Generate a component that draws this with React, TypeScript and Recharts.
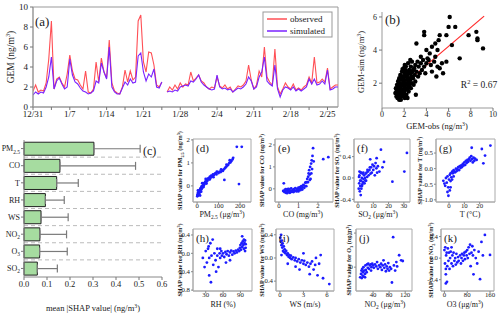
import React from 'react';
import {
  LineChart, Line, XAxis, YAxis, ScatterChart, Scatter, BarChart, Bar, ErrorBar,
  CartesianGrid, ReferenceArea, ReferenceLine,
} from 'recharts';

const FONT = '"Liberation Serif", "DejaVu Serif", serif';

// ---- (a) hourly GEM, sampled every half day from 12/31 ----
const dateLabels = ['12/31', '1/7', '1/14', '1/21', '1/28', '2/4', '2/11', '2/18', '2/25'];
const observed = [
  1.6, 2.2, 1.5, 1.7, 1.6, 2.4, 4.8, 8.6, 1.8, 2.8,
  3.0, 2.4, 2.0, 3.3, 5.2, 3.6, 2.8, 2.7, 2.2, 1.8,
  3.6, 1.5, 1.4, 1.8, 4.5, 2.5, 4.9, 3.5, 2.9, 6.7,
  2.4, 1.6, 1.4, 1.3, 2.0, 3.7, 2.5, 3.6, 2.7, 3.0,
  8.6, 9.2, 4.5, 3.5, 5.5, 5.4, 4.2, 2.2, 2.0, 2.5,
  null, 1.5, 2.0, 1.7, 2.2, 1.8, 2.4, 2.0, 2.3, 2.2,
  3.5, 2.6, 2.9, 3.2, 2.6, 2.4, 2.0, 1.8, 2.0, 1.9,
  3.0, 2.1, 1.9, 2.2, 1.8, 2.0, 1.5, 1.8, 2.1, 2.0,
  2.2, 2.6, 4.2, 2.7, 1.8, 2.2, 3.6, 3.0, 6.0, 3.0,
  2.5, 2.2, 5.8, 2.0, 1.3, 1.8, 2.4, 2.0, 1.8, 2.3,
  1.7, 1.9, 1.7, 2.0, 2.2, 3.0, 2.4, 5.0, 2.4, 2.5,
  2.8, 2.5, 3.9, 1.8, 2.0, 2.2, 2.2,
];
const simulated = [
  1.2, 1.5, 1.3, 1.5, 1.4, 2.0, 3.0, 5.0, 1.8, 2.6,
  2.9, 2.3, 1.8, 2.0, 4.8, 3.2, 2.5, 2.3, 1.9, 1.6,
  1.5, 1.3, 1.4, 1.6, 2.6, 2.4, 4.4, 3.5, 2.8, 6.0,
  2.0, 1.5, 1.3, 1.3, 1.9, 2.5, 2.2, 2.8, 2.4, 2.5,
  5.1, 5.4, 3.5, 2.6, 3.3, 3.0, 3.8, 2.0, 1.9, 2.5,
  null, 1.5, 1.6, 1.5, 1.7, 1.6, 2.0, 2.1, 2.2, 2.1,
  2.6, 2.5, 2.8, 3.2, 2.5, 2.2, 2.0, 1.8, 1.7, 1.8,
  3.2, 2.0, 1.8, 1.9, 1.7, 1.8, 1.5, 1.7, 1.9, 1.8,
  2.0, 2.3, 3.0, 2.6, 1.8, 2.0, 3.0, 3.5, 5.0, 2.6,
  2.3, 2.1, 4.2, 1.8, 1.0, 1.7, 2.0, 1.9, 1.7, 2.0,
  1.6, 1.8, 1.6, 1.8, 2.0, 2.8, 2.3, 2.8, 2.2, 2.3,
  2.6, 2.3, 3.7, 1.7, 1.8, 2.0, 2.0,
];

// ---- (b) obs vs sim ----
const obsVsSim: [number, number][] = [
  [1.2, 1.4], [1.25, 1.7], [1.3, 1.2], [1.3, 1.5], [1.35, 1.9], [1.4, 1.1], [1.4, 1.6], [1.45, 2.1],
  [1.5, 1.3], [1.5, 1.8], [1.55, 1.0], [1.55, 2.3], [1.6, 1.5], [1.6, 2.0], [1.65, 1.2], [1.65, 2.5],
  [1.7, 1.7], [1.7, 1.0], [1.75, 2.2], [1.75, 1.4], [1.8, 1.9], [1.8, 2.7], [1.85, 1.2], [1.85, 1.6],
  [1.9, 2.4], [1.9, 2.0], [1.95, 1.4], [1.95, 2.9], [2.0, 1.8], [2.0, 2.2], [2.05, 1.1], [2.05, 2.6],
  [2.1, 1.6], [2.1, 2.0], [2.15, 2.4], [2.15, 3.0], [2.2, 1.3], [2.2, 1.9], [2.25, 2.2], [2.25, 2.7],
  [2.3, 1.7], [2.3, 2.5], [2.35, 2.0], [2.35, 3.2], [2.4, 1.5], [2.4, 2.3], [2.45, 2.8], [2.5, 1.9],
  [2.5, 2.6], [2.55, 2.2], [2.6, 3.0], [2.6, 1.7], [2.65, 2.4], [2.7, 2.0], [2.7, 3.3], [2.75, 2.7],
  [2.8, 2.3], [2.85, 1.9], [2.9, 2.9], [2.95, 2.5], [3.0, 3.1], [3.0, 2.1], [3.05, 1.3], [3.1, 2.7],
  [3.1, 4.4], [3.2, 3.3], [3.25, 2.4], [3.3, 3.0], [3.4, 2.6], [3.5, 3.6], [3.5, 3.2], [3.6, 2.8],
  [3.7, 3.4], [3.8, 5.1], [3.8, 4.9], [3.8, 3.0], [3.9, 2.6], [4.0, 4.0], [4.0, 3.2], [4.1, 3.5],
  [4.2, 3.4], [4.3, 3.8], [4.4, 3.1], [4.5, 4.2], [4.5, 2.7], [4.7, 3.3], [4.8, 4.4], [4.8, 3.6],
  [4.9, 2.4], [5.0, 4.0], [5.0, 3.0], [5.1, 4.6], [5.2, 4.9], [5.2, 2.9], [5.4, 3.2], [5.5, 2.6],
  [5.8, 3.3], [5.8, 4.9], [6.0, 5.4], [6.1, 6.0], [6.3, 4.3], [6.6, 5.4], [7.0, 3.5], [7.8, 4.9],
  [8.5, 5.1], [8.6, 4.7], [8.6, 4.6], [9.1, 4.1], [1.45, 1.25], [1.6, 1.75], [1.75, 1.55], [1.9, 1.3],
  [2.0, 1.5], [2.1, 2.8], [2.3, 1.1], [2.45, 1.8], [1.35, 1.35], [1.55, 1.15], [1.65, 1.85], [1.8, 2.35],
  [1.95, 2.05], [2.2, 2.55], [2.4, 2.05], [2.6, 2.6], [2.8, 2.8], [1.5, 2.15], [1.7, 2.45], [1.85, 2.85],
  [2.05, 3.1], [2.55, 3.4],
];
const fitX = [1.3, 9.2];
const fitY = [1.55, 6.05];

// ---- (c) mean |SHAP| ----
const factors = ['PM_{2.5}', 'CO', 'T', 'RH', 'WS', 'NO_{2}', 'O_{3}', 'SO_{2}'];
const meanShap = [0.304, 0.156, 0.142, 0.093, 0.074, 0.069, 0.068, 0.058];
const shapUpper = [0.505, 0.485, 0.236, 0.175, 0.192, 0.185, 0.188, 0.145];

// ---- (d)-(k) dependence plots ----
const pm25Shap: [number, number][] = [
  [1, -0.45], [2, -0.38], [3, -0.42], [4, -0.3], [5, -0.35], [6, -0.4], [7, -0.28], [8, -0.33], [9, -0.22],
  [10, -0.3], [12, -0.2], [13, -0.26], [15, -0.12], [16, -0.18], [18, -0.1], [20, -0.15], [21, -0.02],
  [23, -0.08], [25, 0.0], [27, -0.05], [29, 0.08], [31, 0.02], [33, 0.12], [35, 0.08], [38, 0.18], [40, 0.3],
  [42, 0.15], [45, 0.25], [48, 0.22], [50, 0.32], [53, 0.3], [56, 0.35], [60, 0.4], [63, 0.36], [66, 0.45],
  [70, 0.42], [74, 0.5], [78, 0.47], [82, 0.52], [86, 0.55], [90, 0.5], [95, 0.6], [100, 0.56], [105, 0.62],
  [110, 0.6], [115, 0.68], [120, 0.65], [125, 0.72], [127, 0.26], [130, 0.78], [135, 0.82], [140, 0.88],
  [145, 0.92], [150, 1.0], [155, 1.02], [160, 1.08], [165, 1.15], [168, 1.22], [185, 1.7], [208, 1.7],
  [195, 0.08], [14, -0.42], [24, 0.12], [60, 0.3], [4, -0.2], [11, -0.38], [19, -0.25], [30, -0.05],
  [44, 0.1], [58, 0.28], [76, 0.38], [92, 0.62], [112, 0.72], [137, 0.92], [152, 1.12],
];
const coShap: [number, number][] = [
  [0.22, -0.1], [0.25, 0.25], [0.28, -0.15], [0.3, -0.05], [0.33, -0.12], [0.36, -0.18], [0.4, -0.08],
  [0.42, -0.2], [0.45, -0.02], [0.48, -0.12], [0.5, -0.15], [0.53, -0.05], [0.56, -0.18], [0.6, -0.1],
  [0.63, 0.02], [0.66, -0.14], [0.7, -0.06], [0.73, -0.12], [0.76, -0.02], [0.8, -0.1], [0.84, 0.03],
  [0.88, -0.08], [0.92, 0.0], [0.96, -0.05], [1.0, 0.05], [1.04, -0.02], [1.08, 0.08], [1.12, 0.02],
  [1.15, 0.12], [1.2, 0.08], [1.25, 0.18], [1.3, 0.15], [1.35, 0.28], [1.4, 0.3], [1.45, 0.45], [1.5, 0.55],
  [1.52, 0.7], [1.55, 0.85], [1.58, 0.65], [1.6, 1.0], [1.62, 0.45], [1.65, 1.15], [1.68, 1.3], [1.7, 0.9],
  [1.72, 1.5], [1.75, 1.85], [1.78, 1.25], [2.27, 1.35], [2.53, 1.44], [1.0, -0.12], [1.2, -0.03],
  [0.5, 0.0], [1.4, 0.12], [0.35, -0.02], [0.55, -0.08], [0.75, -0.15], [0.9, -0.12], [1.1, -0.06],
  [1.3, 0.05], [1.48, 0.3], [1.58, 0.4], [1.66, 0.7],
];
const so2Shap: [number, number][] = [
  [0.5, -0.2], [0.8, -0.1], [1, 0.05], [1.2, -0.25], [1.5, -0.15], [1.8, 0.1], [2, -0.05], [2.2, -0.2],
  [2.5, 0.0], [2.8, -0.12], [3, 0.08], [3.3, -0.08], [3.6, -0.02], [4, 0.05], [4.3, -0.1], [4.6, 0.0],
  [5, 0.08], [5.3, -0.05], [5.6, 0.1], [6, 0.02], [6.5, 0.12], [7, 0.05], [7.5, 0.15], [8, 0.35], [8.2, 0.08],
  [8.5, 0.2], [9, 0.1], [9.5, 0.25], [10, 0.15], [10.5, 0.22], [11, 0.05], [11.5, 0.28], [12, 0.18],
  [12.2, 0.37], [12.5, 0.1], [13, 0.22], [14, 0.12], [15, 0.53], [16, 0.2], [17, 0.3], [22.5, -0.07],
  [30.3, 0.12], [32, 0.47], [1, 0.12], [2, 0.1], [1.8, -0.32], [0.7, 0.02], [1.4, -0.05], [2.6, -0.15],
  [3.5, 0.1], [4.8, -0.05], [6.2, 0.15], [7.8, 0.2],
];
const tShap: [number, number][] = [
  [-3.7, -0.39], [-2.5, -0.55], [-2, -0.3], [-1.5, -0.45], [-1, -0.25], [-0.5, -0.6], [-0.4, -0.87],
  [0, -0.35], [0.5, -0.7], [0.5, -0.2], [1, -0.4], [1, -0.15], [1.5, -0.28], [2, -0.1], [2, -0.35],
  [2.5, -0.15], [3, -0.05], [3, -0.25], [3.5, -0.1], [4, -0.12], [4.5, 0.0], [5, -0.08], [5.5, -0.02],
  [6, 0.05], [6.5, -0.05], [7, 0.08], [7.5, 0.02], [8, 0.1], [8.5, 0.05], [9, 0.15], [9.5, 0.1], [10, 0.2],
  [10.5, 0.12], [11, 0.25], [11.5, 0.18], [12, 0.28], [12.5, 0.22], [13, 0.3], [13.5, 0.35], [14, 0.25],
  [14.5, 0.4], [15, 0.3], [15.5, 0.2], [16, 0.35], [16.5, 0.25], [17, 0.32], [18, 0.28], [14.8, 0.67],
  [21.4, 0.63], [23.5, 0.42], [22.4, 0.17], [27, 0.74], [1, -0.6], [-1, -0.75], [-3, -0.48],
];
const rhShap: [number, number][] = [
  [25, -0.1], [28, -0.3], [30, 0.05], [32, -0.2], [34, 0.1], [36, -0.48], [36, -0.1], [38, 0.22], [39, -0.63],
  [40, -0.05], [42, 0.3], [43, -0.25], [45, 0.0], [47, -0.15], [48, -0.4], [50, 0.1], [50, -0.05], [52, -0.3],
  [54, 0.0], [55, -0.1], [57, 0.05], [58, -0.05], [60, 0.0], [62, -0.08], [64, 0.03], [66, -0.02], [68, 0.05],
  [70, -0.05], [72, 0.02], [74, 0.06], [76, -0.03], [78, 0.04], [80, 0.0], [82, 0.06], [84, 0.02], [86, 0.08],
  [93, 0.37], [88, 0.05], [89, 0.12], [90, 0.18], [91, 0.08], [92, 0.22], [93, 0.14], [94, 0.26], [95, 0.18],
  [96, 0.3], [97, 0.22], [98, 0.28], [99, 0.2], [99, 0.12], [98, 0.05], [96, 0.1], [65, -0.2], [72, -0.15],
  [35, 0.15], [55, 0.1],
];
const wsShap: [number, number][] = [
  [0.05, 0.35], [0.1, 0.28], [0.15, 0.4], [0.2, 0.22], [0.25, 0.3], [0.3, 0.18], [0.35, 0.25], [0.4, 0.12],
  [0.5, 0.2], [0.55, 0.1], [0.6, 0.15], [0.7, 0.08], [0.8, 0.12], [0.9, 0.05], [1.0, 0.08], [1.1, 0.02],
  [1.2, 0.05], [1.3, 0.0], [1.4, 0.04], [1.5, -0.02], [1.7, 0.01], [1.9, -0.04], [2.0, 0.0], [2.2, -0.06],
  [2.4, -0.02], [2.6, -0.08], [2.8, -0.04], [3.0, -0.1], [3.1, -0.05], [3.3, -0.12], [3.5, -0.08],
  [3.7, -0.15], [3.9, -0.1], [4.1, -0.06], [4.3, -0.2], [4.5, -0.12], [4.6, 0.0], [4.8, -0.3], [5.0, -0.1],
  [5.2, 0.05], [5.5, -0.35], [6.3, -0.45], [3.8, -0.28], [2.5, -0.2], [0.2, 0.05], [1.0, -0.1],
  [2.0, -0.15], [3.0, 0.08],
];
const no2Shap: [number, number][] = [
  [8, -0.3], [10, -0.2], [11, -0.1], [12, -0.32], [13, -0.05], [14, -0.25], [15, -0.15], [16, 0.0],
  [17, -0.28], [18, -0.1], [20, -0.2], [21, 0.05], [22, -0.08], [24, -0.15], [25, 0.08], [27, -0.02],
  [28, 0.1], [30, -0.05], [32, 0.05], [34, 0.08], [36, 0.0], [38, 0.1], [40, 0.05], [42, -0.02], [45, 0.08],
  [48, 0.02], [50, 0.15], [52, -0.05], [55, 0.05], [58, 0.0], [60, 0.1], [62, -0.08], [64, 0.05], [66, 0.2],
  [68, -0.02], [70, 0.08], [72, -0.12], [74, 0.02], [76, -0.05], [78, 0.12], [80, -0.1], [82, 0.0],
  [85, -0.05], [87, -0.45], [90, 0.88], [92, 0.05], [95, -0.1], [98, 0.15], [100, 0.02], [105, 0.35],
  [110, 0.2], [114, 0.18], [20, -0.3], [35, -0.1],
];
const o3Shap: [number, number][] = [
  [0, 0.15], [2, -0.1], [3, 0.2], [5, -0.2], [6, 0.05], [8, 0.1], [5, -0.47], [10, -0.15], [12, 0.18],
  [14, -0.05], [9, -0.44], [16, 0.1], [18, -0.2], [20, 0.0], [22, 0.12], [25, -0.1], [28, 0.05], [30, -0.15],
  [32, 0.1], [35, -0.05], [38, 0.0], [40, -0.12], [42, 0.08], [45, -0.08], [48, 0.02], [50, -0.05], [55, 0.05],
  [58, -0.1], [60, 0.0], [62, 0.08], [65, -0.05], [68, 0.05], [70, 0.1], [72, -0.02], [75, 0.12], [78, 0.05],
  [80, 0.15], [82, 0.0], [85, 0.2], [88, 0.08], [90, 0.25], [92, -0.15], [95, 0.1], [98, 0.22], [100, 0.05],
  [102, -0.3], [105, 0.15], [110, 0.0], [115, -0.1], [120, 0.12], [125, -0.39], [130, 0.3], [135, 0.05],
  [142, 0.43], [160, 0.06], [5, -0.3], [25, 0.2],
];

const smallPanels = [
  { tag: '(d)', pts: pm25Shap, box: [193, 139, 251, 202], xd: [-19, 251], xt: [0, 100, 200], yd: [-0.7, 2.04], yt: [0, 1, 2], dec: 0, xl: 'PM_{2.5} (μg/m^{3})', xlx: 222, yl: 'SHAP value for PM_{2.5} (ng/m^{3})', ylx: 182 },
  { tag: '(e)', pts: coShap, box: [275, 139, 333, 202], xd: [-0.2, 2.77], xt: [0, 1, 2], yd: [-0.6, 2.27], yt: [0, 1, 2], dec: 0, xl: 'CO (mg/m^{3})', xlx: 303, yl: 'SHAP value for CO (ng/m^{3})', ylx: 264 },
  { tag: '(f)', pts: so2Shap, box: [354, 139, 410, 202], xd: [-2.6, 34], xt: [0, 10, 20, 30], yd: [-0.45, 0.73], yt: [-0.4, 0, 0.4], dec: 1, xl: 'SO_{2} (μg/m^{3})', xlx: 378, yl: 'SHAP value for SO_{2} (ng/m^{3})', ylx: 339 },
  { tag: '(g)', pts: tShap, box: [436, 139, 495, 202], xd: [-8.5, 30], xt: [0, 10, 20], yd: [-1.07, 0.95], yt: [-1, -0.5, 0, 0.5], dec: 1, xl: 'T (°C)', xlx: 470, yl: 'SHAP value for T (ng/m^{3})', ylx: 422 },
  { tag: '(h)', pts: rhShap, box: [193, 229, 252, 291], xd: [8, 110], xt: [30, 60, 90], yd: [-0.82, 0.53], yt: [-0.8, -0.4, 0, 0.4], dec: 1, xl: 'RH (%)', xlx: 223, yl: 'SHAP value for RH (ng/m^{3})', ylx: 182 },
  { tag: '(i)', pts: wsShap, box: [276, 229, 334, 291], xd: [-0.5, 6.9], xt: [0, 3, 6], yd: [-0.57, 0.5], yt: [-0.4, 0, 0.4], dec: 1, xl: 'WS (m/s)', xlx: 305, yl: 'SHAP value for WS (ng/m^{3})', ylx: 264 },
  { tag: '(j)', pts: no2Shap, box: [356, 229, 412, 291], xd: [-2.5, 137], xt: [40, 80, 120], yd: [-0.7, 1.12], yt: [0, 1], dec: 0, xl: 'NO_{2} (μg/m^{3})', xlx: 385, yl: 'SHAP value for O_{3} (ng/m^{3})', ylx: 351 },
  { tag: '(k)', pts: o3Shap, box: [441, 229, 494, 291], xd: [-12, 174], xt: [0, 80, 160], yd: [-0.61, 0.54], yt: [-0.4, 0, 0.4], dec: 1, xl: 'O3 (μg/m^{3})', xlx: 465, yl: 'SHAP value for NO_{2} (ng/m^{3})', ylx: 433 },
];

// ---------- helpers ----------
function parseRich(s: string): [string, string][] {
  const out: [string, string][] = [];
  const re = /([_^])\{([^}]*)\}/g;
  let last = 0;
  let m: RegExpExecArray | null;
  while ((m = re.exec(s))) {
    if (m.index > last) out.push([s.slice(last, m.index), '']);
    out.push([m[2], m[1] === '_' ? 'sub' : 'sup']);
    last = re.lastIndex;
  }
  if (last < s.length) out.push([s.slice(last), '']);
  return out;
}

const RichText = ({ x, y, text, size, anchor = 'middle', rotate = false, weight = 'normal' }: any) => {
  let shift = 0;
  return (
    <text x={x} y={y} fontSize={size} fontFamily={FONT} fontWeight={weight} textAnchor={anchor} fill="#1a1a1a"
      transform={rotate ? `rotate(-90 ${x} ${y})` : undefined}>
      {parseRich(text).map(([t, k], i) => {
        const target = k === 'sub' ? size * 0.28 : k === 'sup' ? -size * 0.4 : 0;
        const dy = target - shift;
        shift = target;
        return <tspan key={i} dy={dy} fontSize={k ? size * 0.68 : size}>{t}</tspan>;
      })}
    </text>
  );
};

// tick renderers in serif
const xTick = (size: number, fmt: (v: number) => string = String) => (t: any) => (
  <RichText x={t.x} y={t.y + size * 0.66} text={fmt(t.payload.value)} size={size} />
);
const yTick = (size: number, fmt: (v: any) => string = String) => (t: any) => (
  <RichText x={t.x} y={t.y + size * 0.34} text={fmt(t.payload.value)} size={size} anchor="end" />
);

const SmallScatter = ({ p }: any) => {
  const [x0, y0, x1, y1] = p.box;
  const yw = 22, xh = 12, pad = 3;
  const pts = p.pts.map(([x, y]: [number, number]) => ({ x, y }));
  return (
    <div style={{ position: 'absolute', left: x0 - yw, top: y0 - pad }}>
      <ScatterChart width={x1 - x0 + yw + pad} height={y1 - y0 + pad + xh} margin={{ top: pad, right: pad, left: 0, bottom: 0 }}>
        <XAxis type="number" dataKey="x" domain={p.xd} ticks={p.xt} interval={0} allowDataOverflow height={xh}
          tickSize={2} tickMargin={0} tick={xTick(6.8)} axisLine={{ stroke: '#aaa' }} tickLine={{ stroke: '#888' }} />
        <YAxis type="number" dataKey="y" domain={p.yd} ticks={p.yt} interval={0} allowDataOverflow width={yw}
          tickSize={2} tickMargin={1} tick={yTick(6.8, (v: number) => v.toFixed(p.dec))}
          axisLine={{ stroke: '#aaa' }} tickLine={{ stroke: '#888' }} />
        <ReferenceArea x1={p.xd[0]} x2={p.xd[1]} y1={p.yd[0]} y2={p.yd[1]} fill="none" stroke="#aaa" ifOverflow="visible" />
        <Scatter data={pts} isAnimationActive={false}
          shape={(s: any) => <circle cx={s.cx} cy={s.cy} r={1.4} fill="#1c1cff" />} />
      </ScatterChart>
    </div>
  );
};

export default function App() {
  const seriesA = observed.map((v, i) => ({ day: i / 2, obs: v, sim: simulated[i] }));
  const weekTicks = Array.from({ length: 17 }, (_, i) => i * 3.5);
  const scatterB = obsVsSim.map(([x, y]) => ({ x, y }));
  const barData = factors.map((name, i) => ({ name, mean: meanShap[i], err: [0, shapUpper[i] - meanShap[i]] }));

  return (
    <div style={{ position: 'absolute', left: 0, top: 0, width: 500, height: 313, background: '#fff', overflow: 'hidden', fontFamily: FONT }}>
      {/* (a) */}
      <div style={{ position: 'absolute', left: 0, top: 0 }}>
        <LineChart width={345} height={125} data={seriesA} margin={{ top: 7, right: 7, left: 0, bottom: 0 }}>
          <XAxis type="number" dataKey="day" domain={[0, 58]} ticks={weekTicks} interval={0} allowDataOverflow height={18}
            tickSize={3} tickMargin={1} axisLine={{ stroke: '#999' }} tickLine={{ stroke: '#777' }}
            tick={xTick(9, (v: number) => (v % 7 === 0 ? dateLabels[v / 7] : ''))} />
          <YAxis type="number" domain={[0, 10]} ticks={[0, 2, 4, 6, 8, 10]} interval={0} width={33}
            tickSize={3} tickMargin={2} tick={yTick(9)} axisLine={{ stroke: '#999' }} tickLine={{ stroke: '#777' }} />
          <ReferenceArea x1={0} x2={58} y1={0} y2={10} fill="none" stroke="#999" ifOverflow="visible" />
          <Line type="linear" dataKey="obs" stroke="#ff4f55" strokeWidth={1.1} dot={false} isAnimationActive={false} />
          <Line type="linear" dataKey="sim" stroke="#7a22ff" strokeWidth={1.1} dot={false} isAnimationActive={false} />
        </LineChart>
      </div>

      {/* (b) */}
      <div style={{ position: 'absolute', left: 355, top: 0 }}>
        <ScatterChart width={145} height={125} margin={{ top: 12, right: 7, left: 0, bottom: 0 }}>
          <XAxis type="number" dataKey="x" domain={[0, 10]} ticks={[0, 2, 4, 6, 8, 10]} interval={0} allowDataOverflow height={17}
            tickSize={3} tickMargin={1} tick={xTick(8)} axisLine={{ stroke: '#999' }} tickLine={{ stroke: '#777' }} />
          <YAxis type="number" dataKey="y" domain={[0.5, 6.3]} ticks={[2, 4, 6]} interval={0} allowDataOverflow width={27}
            tickSize={3} tickMargin={2} tick={yTick(8)} axisLine={{ stroke: '#999' }} tickLine={{ stroke: '#777' }} />
          <Scatter data={scatterB} isAnimationActive={false}
            shape={(s: any) => <circle cx={s.cx} cy={s.cy} r={2.2} fill="#000" />} />
          <ReferenceLine segment={[{ x: fitX[0], y: fitY[0] }, { x: fitX[1], y: fitY[1] }]} stroke="#ff2a2a" strokeWidth={1.2} />
        </ScatterChart>
      </div>

      {/* (c) */}
      <div style={{ position: 'absolute', left: 0, top: 134 }}>
        <BarChart width={168} height={160} data={barData} layout="vertical" barCategoryGap="13%"
          margin={{ top: 6, right: 6, left: 0, bottom: 0 }}>
          <CartesianGrid vertical={false} stroke="#bbb" strokeDasharray="4 3"
            horizontalCoordinatesGenerator={({ offset }: any) =>
              factors.slice(1).map((_, i) => offset.top + ((i + 1) * offset.height) / factors.length)} />
          <XAxis type="number" domain={[0, 0.6]} ticks={[0, 0.1, 0.2, 0.3, 0.4, 0.5, 0.6]} interval={0} height={17}
            tickSize={3} tickMargin={1} tick={xTick(8.5, (v: number) => v.toFixed(1))}
            axisLine={{ stroke: '#888' }} tickLine={{ stroke: '#777' }} />
          <XAxis xAxisId="top" orientation="top" type="number" domain={[0, 0.6]} height={0} tick={false} tickLine={false} axisLine={{ stroke: '#888' }} />
          <YAxis type="category" dataKey="name" width={24} interval={0} tickSize={3} tickMargin={1}
            axisLine={{ stroke: '#888' }} tickLine={{ stroke: '#777' }} tick={yTick(8)} />
          <YAxis yAxisId="right" orientation="right" type="category" dataKey="name" width={0} tick={false} tickLine={false} axisLine={{ stroke: '#888' }} />
          <Bar dataKey="mean" fill="#a6dca0" stroke="#222" strokeWidth={1} isAnimationActive={false}>
            <ErrorBar dataKey="err" direction="x" width={4} stroke="#7a7a7a" strokeWidth={1.2} />
          </Bar>
        </BarChart>
      </div>

      {smallPanels.map((p) => <SmallScatter key={p.tag} p={p} />)}

      {/* text overlay: panel tags, axis titles, legend */}
      <svg width={500} height={313} style={{ position: 'absolute', left: 0, top: 0, pointerEvents: 'none' }}>
        <RichText x={35} y={26} text="(a)" size={13} anchor="start" />
        <RichText x={14} y={57} text="GEM (ng/m^{3})" size={9.5} rotate />
        <rect x={263} y={12} width={69} height={25} fill="#fff" stroke="#999" />
        <line x1={267} x2={287} y1={19} y2={19} stroke="#ff4f55" strokeWidth={1.5} />
        <line x1={267} x2={287} y1={31} y2={31} stroke="#7a22ff" strokeWidth={1.5} />
        <RichText x={290} y={22} text="observed" size={9} anchor="start" />
        <RichText x={290} y={34} text="simulated" size={9} anchor="start" />

        <RichText x={385} y={24} text="(b)" size={13} anchor="start" />
        <RichText x={364} y={62} text="GEM-sim (ng/m^{3})" size={8.5} rotate />
        <RichText x={437} y={129} text="GEM-obs (ng/m^{3})" size={8.5} />
        <RichText x={479} y={88} text="R^{2} = 0.67" size={9.5} />

        <RichText x={143} y={155} text="(c)" size={12} anchor="start" />
        <RichText x={93} y={311} text="mean |SHAP value| (ng/m^{3})" size={8.5} />

        {smallPanels.map((p) => {
          const [x0, y0, , y1] = p.box;
          const row1 = y0 < 200;
          return (
            <g key={p.tag}>
              <RichText x={x0 + 3} y={y0 + 13} text={p.tag} size={11} anchor="start" />
              <RichText x={p.xlx} y={row1 ? 217 : 307} text={p.xl} size={8} />
              <RichText x={p.ylx} y={(y0 + y1) / 2} text={p.yl} size={6.2} rotate weight="bold" />
            </g>
          );
        })}
      </svg>
    </div>
  );
}
